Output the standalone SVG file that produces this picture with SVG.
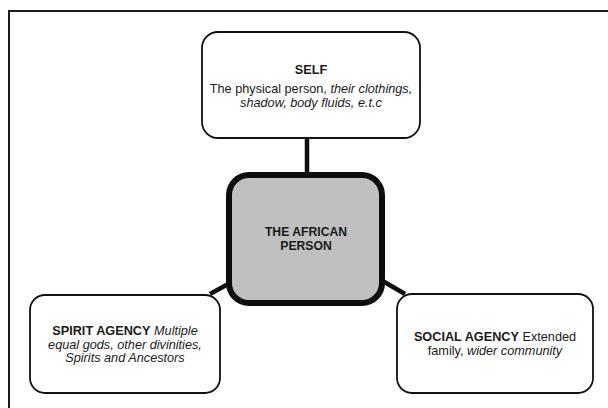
<svg xmlns="http://www.w3.org/2000/svg" width="608" height="408" viewBox="0 0 608 408">
  <style>
    text { font-family: "Liberation Sans", Arial, sans-serif; font-size: 12.7px; fill: #1a1a1a; text-anchor: middle; }
    .b { font-weight: bold; }
    .i { font-style: italic; }
    .core-label { font-weight: bold; font-size: 12.2px; }
    .box { fill: #ffffff; stroke: #111111; stroke-width: 1.8; }
    .core { fill: #c0c0c0; stroke: #0d0d0d; stroke-width: 6; }
    .link { stroke: #0d0d0d; stroke-width: 4.5; fill: none; }
  </style>
  <rect width="608" height="408" fill="#ffffff"/>
  <!-- outer frame (open to the right and bottom) -->
  <path d="M9,420 V11 H620" fill="none" stroke="#1a1a1a" stroke-width="2"/>

  <g id="connectors">
    <line class="link" x1="307" y1="138" x2="307" y2="175"/>
    <line class="link" x1="210" y1="294" x2="230" y2="283"/>
    <line class="link" x1="381" y1="280" x2="405" y2="294"/>
  </g>

  <g id="self">
    <rect class="box" x="202" y="32" width="218" height="106" rx="16"/>
    <text x="311" y="74" class="b">SELF</text>
    <text x="311" y="93">The physical person, <tspan class="i">their clothings,</tspan></text>
    <text x="311" y="107" class="i">shadow, body fluids, e.t.c</text>
  </g>

  <g id="african-person">
    <rect class="core" x="229" y="175" width="153" height="128" rx="20"/>
    <text x="306" y="236" class="core-label">THE AFRICAN</text>
    <text x="306" y="249.5" class="core-label">PERSON</text>
  </g>

  <g id="spirit-agency">
    <rect class="box" x="30" y="295" width="190" height="98" rx="15"/>
    <text x="125" y="335"><tspan class="b">SPIRIT AGENCY</tspan> <tspan class="i">Multiple</tspan></text>
    <text x="125" y="348.5" class="i">equal gods, other divinities,</text>
    <text x="125" y="362" class="i">Spirits and Ancestors</text>
  </g>

  <g id="social-agency">
    <rect class="box" x="397" y="294" width="196" height="99" rx="15"/>
    <text x="495" y="341"><tspan class="b">SOCIAL AGENCY</tspan> Extended</text>
    <text x="495" y="354.5">family, <tspan class="i">wider community</tspan></text>
  </g>
</svg>
